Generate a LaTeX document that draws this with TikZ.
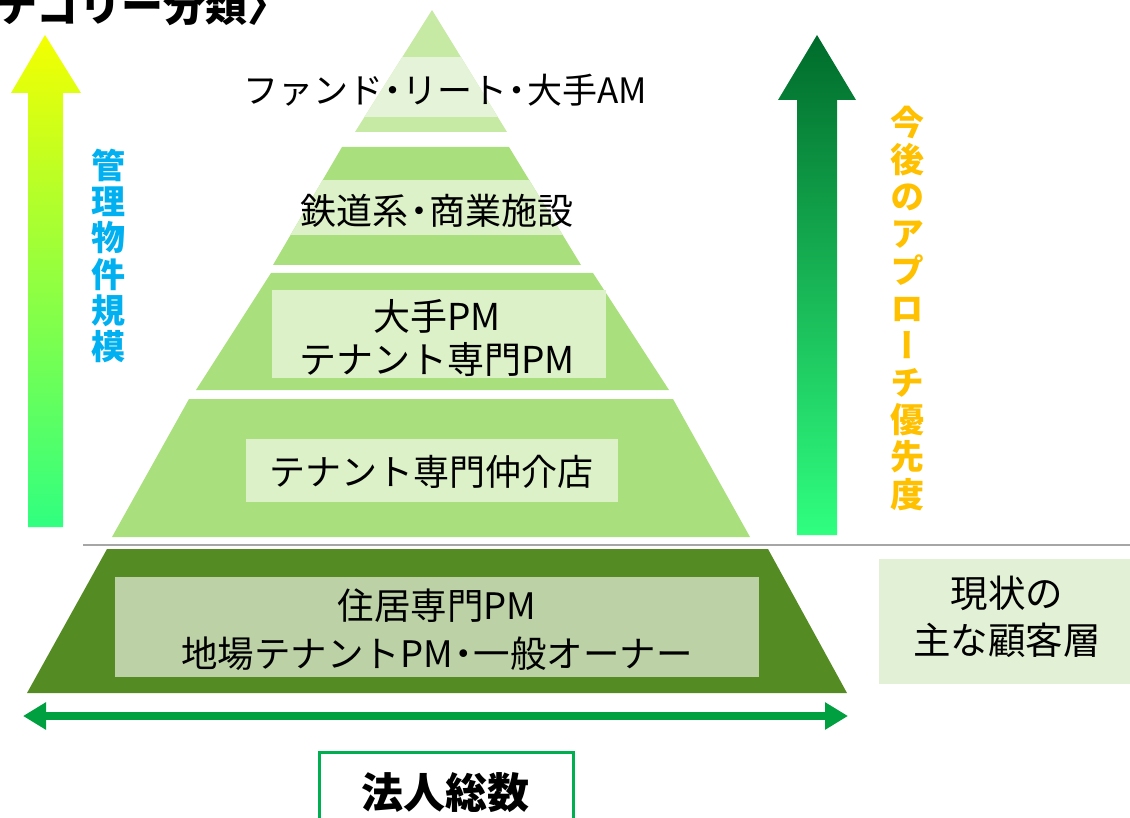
\documentclass[tikz,border=0pt]{standalone}
\usepackage{fontspec}
\usepackage{graphicx}
\usetikzlibrary{arrows.meta}
\newfontfamily\jp{Noto Sans CJK JP}
\newfontfamily\jpv[RawFeature=+vert]{Noto Sans CJK JP}
\newcommand{\nakaguro}{\kern-0.22em・\kern-0.22em}
\definecolor{topouter}{HTML}{C6E9A4}
\definecolor{topinner}{HTML}{E5F3D8}
\definecolor{tiergreen}{HTML}{A9DF7C}
\definecolor{tierlight}{HTML}{DCF1C8}
\definecolor{basegreen}{HTML}{558B23}
\definecolor{baselight}{HTML}{BCD2A6}
\definecolor{notebox}{HTML}{E2F0D5}
\definecolor{sepgray}{HTML}{A6A6A6}
\definecolor{arrowgreen}{HTML}{00A040}
\definecolor{boxgreen}{HTML}{00B050}
\definecolor{sizeblue}{HTML}{00B0F0}
\definecolor{prioorange}{HTML}{FFC000}
\definecolor{yelltop}{HTML}{F4FF00}
\definecolor{midgreen}{HTML}{00AA45}
\definecolor{brightgreen}{HTML}{30FF80}
\definecolor{darktop}{HTML}{006B2B}
\begin{document}
\begin{tikzpicture}[x=1pt,y=-1pt,
  lbl/.style={inner sep=0pt, align=center, text=black},
  vlbl/.style={inner sep=0pt, align=center},
  dblarrow/.style={draw=arrowgreen, line width=8pt,
    {Triangle[length=23pt,width=26pt]}-{Triangle[length=23pt,width=26pt]}}]
\useasboundingbox (0,0) rectangle (1130,818);
\clip (0,0) rectangle (1130,818);
% title (cut)
\node[inner sep=0pt, anchor=east, font=\jp\bfseries\fontsize{42}{42}\selectfont] (title) at (290,5) {テゴリー分類〉};
% left block arrow
\shade[top color=yelltop, middle color=midgreen, bottom color=brightgreen]
  (45,35) -- (81,93) -- (63,93) -- (63,527) -- (28,527) -- (28,93) -- (11,93) -- cycle;
\node[vlbl, text=sizeblue, font=\jpv\bfseries\fontsize{34}{36.3}\selectfont] (size) at (108,256) {管\\理\\物\\件\\規\\模};
% right block arrow
\shade[top color=darktop, middle color=arrowgreen, bottom color=brightgreen]
  (817,35) -- (856,100) -- (837,100) -- (837,535) -- (797,535) -- (797,100) -- (778,100) -- cycle;
\node[vlbl, text=prioorange, font=\jpv\bfseries\fontsize{34}{37.2}\selectfont] (prio) at (907,308) {今\\後\\の\\ア\\プ\\ロ\\ー\\チ\\優\\先\\度};
% tier 1
\fill[topouter] (432,10) -- (507,132) -- (355,132) -- cycle;
\begin{scope}
  \clip (432,10) -- (507,132) -- (355,132) -- cycle;
  \fill[topinner] (300,57) rectangle (560,117);
\end{scope}
\node[lbl, font=\jp\fontsize{35}{43}\selectfont] (t1) at (445,90) {ファンド\nakaguro リート\nakaguro 大手AM};
% tier 2
\fill[tiergreen] (342,147) -- (509,147) -- (581,265) -- (273,265) -- cycle;
\begin{scope}
  \clip (342,147) -- (509,147) -- (581,265) -- (273,265) -- cycle;
  \fill[tierlight] (250,180) rectangle (600,235);
\end{scope}
\node[lbl, font=\jp\fontsize{36}{43}\selectfont] (t2) at (437,211) {鉄道系\nakaguro 商業施設};
% tier 3
\fill[tiergreen] (271,273) -- (593,273) -- (669,390) -- (196,390) -- cycle;
\fill[tierlight] (272,290) rectangle (606,378);
\node[lbl, font=\jp\fontsize{37}{43}\selectfont] (t3) at (437,338) {大手PM\\テナント専門PM};
% tier 4
\fill[tiergreen] (189,399) -- (673,399) -- (750,537) -- (112,537) -- cycle;
\fill[tierlight] (246,439) rectangle (618,502);
\node[lbl, font=\jp\fontsize{36}{43}\selectfont] (t4) at (431,472) {テナント専門仲介店};
% separator
\draw[sepgray, line width=2.5pt] (83,545) -- (1130,545);
% base tier
\fill[basegreen] (107,549) -- (768,549) -- (847,693) -- (27,693) -- cycle;
\fill[baselight] (115,577) rectangle (759,677);
\node[lbl, font=\jp\fontsize{36.5}{48}\selectfont] (t5) at (437,630) {住居専門PM\\地場テナントPM\nakaguro 一般オーナー};
% note box
\fill[notebox] (879,559) rectangle (1135,684);
\node[lbl, font=\jp\fontsize{37.5}{47}\selectfont] (note) at (1007,617) {現状の\\主な顧客層};
% double arrow
\coordinate (la) at (23,716);
\coordinate (ra) at (848,716);
\draw[dblarrow] (la) -- (ra);
% total box
\draw[boxgreen, line width=3pt, fill=white] (319,752) rectangle (573,840);
\node[inner sep=0pt, font=\jp\bfseries\fontsize{42}{42}\selectfont] (total) at (445,793) {法人総数};
\end{tikzpicture}
\end{document}
